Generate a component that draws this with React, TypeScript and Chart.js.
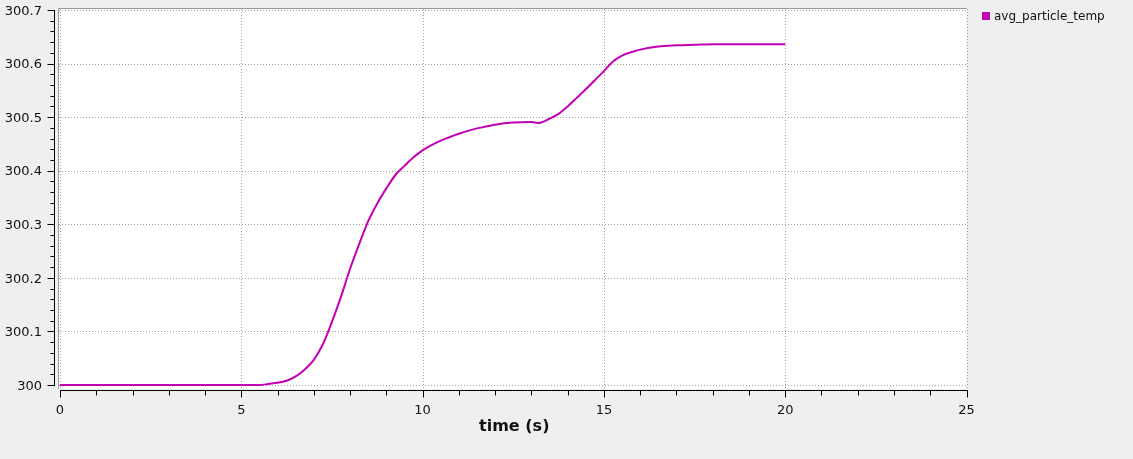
import { useEffect, useRef } from 'react';
import { Chart, registerables } from 'chart.js';

Chart.register(...registerables);

// values
const timeS = [
  0, 1, 2, 3, 4, 5, 5.5, 5.75, 6, 6.25, 6.5, 6.75, 7, 7.25, 7.5, 7.75,
  8, 8.25, 8.5, 8.75, 9, 9.25, 9.5, 9.75, 10, 10.5, 11, 11.5, 12, 12.5,
  13, 13.2, 13.5, 13.75, 14, 14.25, 14.5, 14.75, 15, 15.25, 15.5, 15.75,
  16, 16.5, 17, 17.5, 18, 18.5, 19, 19.5, 20,
];
const avgParticleTemp = [
  300, 300, 300, 300, 300, 300, 300, 300.002, 300.004, 300.008, 300.016, 300.029,
  300.047, 300.076, 300.118, 300.165, 300.217, 300.263, 300.306, 300.339, 300.367,
  300.392, 300.409, 300.425, 300.438, 300.456, 300.469, 300.479, 300.486, 300.49,
  300.491, 300.489, 300.497, 300.506, 300.52, 300.536, 300.552, 300.569, 300.586,
  300.604, 300.615, 300.621, 300.626, 300.632, 300.634, 300.635, 300.636, 300.636,
  300.636, 300.636, 300.636,
];

const seriesLabel = 'avg_particle_temp';
const xTitle = 'time (s)';
const xTicks = [0, 5, 10, 15, 20, 25];
const xMinorTicks = Array.from({ length: 26 }, (_, i) => i);
const yTicks = [300, 300.1, 300.2, 300.3, 300.4, 300.5, 300.6, 300.7];
const yTickLabels = ['300', '300.1', '300.2', '300.3', '300.4', '300.5', '300.6', '300.7'];
const yMinorTicks = Array.from({ length: 36 }, (_, i) => 300 + i * 0.02);

const LINE = '#c400b4';
const GRID = '#a0a0a0';
const TEXT = '#111111';
const FONT = "'DejaVu Sans', sans-serif";

const framePlugin = {
  id: 'frameAndAxes',
  beforeDraw(chart: Chart) {
    const { ctx, chartArea: a } = chart;
    ctx.save();
    ctx.fillStyle = '#ffffff';
    ctx.fillRect(a.left, a.top, a.right - a.left, a.bottom - a.top);
    ctx.restore();
  },
  beforeDatasetsDraw(chart: Chart) {
    const { ctx, chartArea: a } = chart;
    const xs = chart.scales.x;
    const ys = chart.scales.y;
    ctx.save();
    ctx.strokeStyle = GRID;
    ctx.lineWidth = 1;
    ctx.setLineDash([1, 2]);
    xTicks.forEach(v => {
      const px = Math.round(xs.getPixelForValue(v)) + 0.5;
      ctx.beginPath();
      ctx.moveTo(px, a.top);
      ctx.lineTo(px, a.bottom);
      ctx.stroke();
    });
    yTicks.forEach(v => {
      const py = Math.round(ys.getPixelForValue(v)) + 0.5;
      ctx.beginPath();
      ctx.moveTo(a.left, py);
      ctx.lineTo(a.right, py);
      ctx.stroke();
    });
    ctx.restore();
  },
  afterDraw(chart: Chart) {
    const { ctx, chartArea: a } = chart;
    const xs = chart.scales.x;
    const ys = chart.scales.y;
    ctx.save();

    // frame (top + left)
    ctx.strokeStyle = '#9a9a9a';
    ctx.lineWidth = 1;
    ctx.beginPath();
    ctx.moveTo(a.left - 0.5, a.bottom);
    ctx.lineTo(a.left - 0.5, a.top - 0.5);
    ctx.lineTo(a.right, a.top - 0.5);
    ctx.stroke();

    // x axis
    const axisY = 390.5;
    const x0 = xs.getPixelForValue(0);
    const x1 = xs.getPixelForValue(25);
    ctx.strokeStyle = '#000';
    ctx.beginPath();
    ctx.moveTo(Math.round(x0), axisY);
    ctx.lineTo(Math.round(x1) + 1, axisY);
    ctx.stroke();
    xMinorTicks.forEach(v => {
      const px = Math.round(xs.getPixelForValue(v)) + 0.5;
      const len = v % 5 === 0 ? 7 : 5;
      ctx.beginPath();
      ctx.moveTo(px, axisY);
      ctx.lineTo(px, axisY + len);
      ctx.stroke();
    });
    ctx.fillStyle = TEXT;
    ctx.font = `13px ${FONT}`;
    ctx.textAlign = 'center';
    ctx.textBaseline = 'alphabetic';
    xTicks.forEach(v => {
      ctx.fillText(String(v), xs.getPixelForValue(v), 413.5);
    });
    ctx.font = `bold 16px ${FONT}`;
    ctx.fillText(xTitle, (x0 + x1) / 2 + 1, 431);

    // y axis
    const axisX = 54.5;
    const yTop = ys.getPixelForValue(300.7);
    const yBot = ys.getPixelForValue(300);
    ctx.beginPath();
    ctx.moveTo(axisX, Math.round(yTop));
    ctx.lineTo(axisX, Math.round(yBot) + 1);
    ctx.stroke();
    yMinorTicks.forEach((v, i) => {
      const py = Math.round(ys.getPixelForValue(v)) + 0.5;
      const len = i % 5 === 0 ? 7 : 4;
      ctx.beginPath();
      ctx.moveTo(axisX, py);
      ctx.lineTo(axisX - len, py);
      ctx.stroke();
    });
    ctx.font = `13px ${FONT}`;
    ctx.textAlign = 'right';
    yTicks.forEach((v, i) => {
      ctx.fillText(yTickLabels[i], 42, ys.getPixelForValue(v) + 4.7);
    });

    // legend
    ctx.fillStyle = LINE;
    ctx.fillRect(982, 12, 8, 8);
    ctx.fillStyle = TEXT;
    ctx.font = `12px ${FONT}`;
    ctx.textAlign = 'left';
    ctx.fillText(seriesLabel, 994, 20);

    ctx.restore();
  },
};

function ParticleTempChart() {
  const canvasRef = useRef<HTMLCanvasElement>(null);
  const chartRef = useRef<Chart | null>(null);

  useEffect(() => {
    if (!canvasRef.current) return;
    chartRef.current?.destroy();

    // plot area: x 0 -> px 60, 25 -> px 966.5 ; y 300 -> px 385, 300.7 -> px 10
    const xPerPx = 25 / 906.5;
    const yPerPx = 0.7 / 375;

    chartRef.current = new Chart(canvasRef.current, {
      type: 'line',
      data: {
        datasets: [{
          label: seriesLabel,
          data: timeS.map((t, i) => ({ x: t, y: avgParticleTemp[i] })),
          borderColor: LINE,
          backgroundColor: LINE,
          borderWidth: 2,
          pointRadius: 0,
          cubicInterpolationMode: 'monotone',
          fill: false,
        }],
      },
      options: {
        responsive: true,
        maintainAspectRatio: false,
        animation: false,
        events: [],
        layout: { padding: { left: 59, right: 166.5, top: 9, bottom: 70 } },
        plugins: {
          legend: { display: false },
          tooltip: { enabled: false },
        },
        scales: {
          x: {
            type: 'linear',
            display: false,
            min: -1 * xPerPx,
            max: 25,
          },
          y: {
            type: 'linear',
            display: false,
            min: 300 - 4 * yPerPx,
            max: 300.7 + 1 * yPerPx,
          },
        },
      },
      plugins: [framePlugin],
    });

    return () => {
      chartRef.current?.destroy();
      chartRef.current = null;
    };
  }, []);

  return (
    <div style={{ position: 'fixed', left: 0, top: 0, width: 1133, height: 459, background: '#efefef' }}>
      <canvas ref={canvasRef} role="img" aria-label="Line chart of avg_particle_temp over time" />
    </div>
  );
}

export default function App() {
  return <ParticleTempChart />;
}
